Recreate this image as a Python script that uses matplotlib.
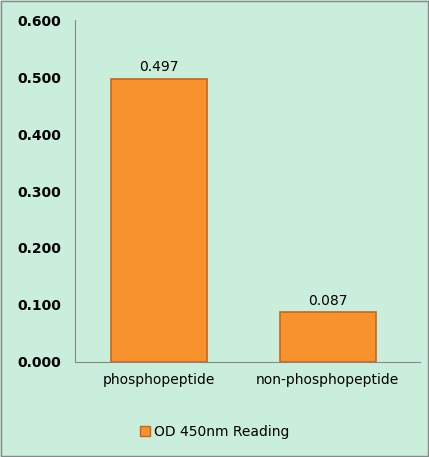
import matplotlib
matplotlib.use("Agg")
import matplotlib.pyplot as plt
from matplotlib.patches import Patch

categories = ["phosphopeptide", "non-phosphopeptide"]
values = [0.497, 0.087]
labels = ["0.497", "0.087"]
series_name = "OD 450nm Reading"
yticks = [0.0, 0.1, 0.2, 0.3, 0.4, 0.5, 0.6]

bg = "#c9eedb"
fig = plt.figure(figsize=(4.29, 4.57), dpi=100, facecolor=bg)
ax = fig.add_axes([0.175, 0.208, 0.805, 0.748], facecolor=bg)
x = range(len(categories))
ax.bar(x, values, width=0.57, color="#f7922c", edgecolor="#c8661a", linewidth=1.2)
for xi, v, l in zip(x, values, labels):
    ax.text(xi, v + 0.008, l, ha="center", va="bottom", fontsize=10, color="black")
ax.set_xlim(-0.5, 1.55)
ax.set_ylim(0, 0.6)
ax.set_yticks(yticks)
ax.set_yticklabels([f"{t:.3f}" for t in yticks], fontsize=10, fontweight="bold")
ax.set_xticks(list(x))
ax.set_xticklabels(categories, fontsize=10)
ax.tick_params(axis="x", length=0, pad=8)
ax.tick_params(axis="y", length=0, pad=10)
for s in ["top", "right"]:
    ax.spines[s].set_visible(False)
ax.spines["left"].set_color("#888888")
ax.spines["bottom"].set_color("#888888")
fig.legend(handles=[Patch(facecolor="#f7922c", edgecolor="#c8661a", label=series_name)],
           loc="center", bbox_to_anchor=(0.5, 0.055), frameon=False, fontsize=10,
           handlelength=0.7, handleheight=0.7, handletextpad=0.3)
fig.patches.append(plt.Rectangle((0.002, 0.002), 0.996, 0.996, transform=fig.transFigure,
                                 fill=False, edgecolor="#888888", linewidth=1))
fig.savefig("out.png", dpi=100, facecolor=bg)
